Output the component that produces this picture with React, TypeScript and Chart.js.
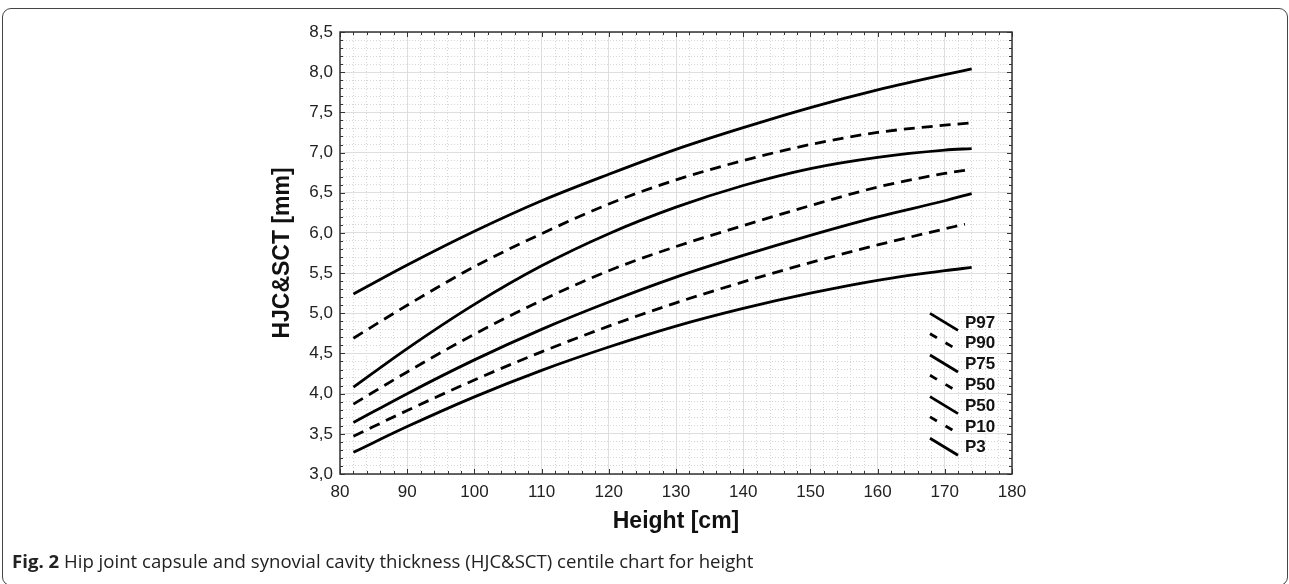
import React, { useEffect, useRef } from "react";
import { Chart, registerables } from "chart.js";
Chart.register(...registerables);

const heights = [82, 90, 100, 110, 120, 130, 140, 150, 160, 170, 174];
const heightsP10 = [82, 90, 100, 110, 120, 130, 140, 150, 160, 170, 173];
const p97 = [5.24, 5.6, 6.02, 6.4, 6.73, 7.04, 7.31, 7.56, 7.78, 7.97, 8.04];
const p90 = [4.69, 5.1, 5.58, 5.99, 6.36, 6.66, 6.9, 7.1, 7.25, 7.34, 7.37];
const p75 = [4.08, 4.56, 5.11, 5.59, 5.99, 6.32, 6.59, 6.8, 6.94, 7.03, 7.05];
const p50d = [3.87, 4.27, 4.74, 5.16, 5.53, 5.83, 6.09, 6.34, 6.57, 6.74, 6.79];
const p50s = [3.64, 4.0, 4.42, 4.8, 5.14, 5.45, 5.72, 5.97, 6.2, 6.4, 6.49];
const p10 = [3.47, 3.79, 4.17, 4.52, 4.84, 5.13, 5.39, 5.63, 5.85, 6.05, 6.11];
const p3 = [3.27, 3.59, 3.96, 4.29, 4.58, 4.84, 5.06, 5.25, 5.41, 5.53, 5.57];

const legendLabels = ["P97", "P90", "P75", "P50", "P50", "P10", "P3"];
const legendDashed = [false, true, false, true, false, true, false];

const xMin = 80, xMax = 180, xMajor = 10, xMinorStep = 2;
const yMin = 3, yMax = 8.5, yMajor = 0.5, yMinorStep = 0.1;

const FONT = "'Liberation Sans', Arial, sans-serif";

const toPts = (xs: number[], ys: number[]) => xs.map((x, i) => ({ x, y: ys[i] }));

const isMult = (v: number, step: number) => Math.abs(v / step - Math.round(v / step)) < 1e-6;

const framePlugin = {
  id: "frameAndLegend",
  afterDraw(chart: any) {
    const { ctx, chartArea } = chart;
    const { left, right, top, bottom } = chartArea;
    const xs = chart.scales.x;
    const ys = chart.scales.y;
    ctx.save();
    ctx.strokeStyle = "#333";
    ctx.lineWidth = 1;
    ctx.beginPath();
    for (let v = xMin; v <= xMax + 1e-9; v += xMinorStep) {
      const px = Math.round(xs.getPixelForValue(v)) + 0.5;
      const len = isMult(v, xMajor) ? 5 : 3;
      ctx.moveTo(px, bottom);
      ctx.lineTo(px, bottom - len);
      ctx.moveTo(px, top);
      ctx.lineTo(px, top + len);
    }
    for (let v = yMin; v <= yMax + 1e-9; v += yMinorStep) {
      const py = Math.round(ys.getPixelForValue(v)) + 0.5;
      const len = isMult(v, yMajor) ? 5 : 3;
      ctx.moveTo(left, py);
      ctx.lineTo(left + len, py);
      ctx.moveTo(right, py);
      ctx.lineTo(right - len, py);
    }
    ctx.stroke();
    ctx.strokeStyle = "#333";
    ctx.lineWidth = 1.5;
    ctx.strokeRect(left, top, right - left, bottom - top);

    const rowH = 20.8;
    const lastC = bottom - 27.3;
    ctx.font = `bold 17px ${FONT}`;
    ctx.fillStyle = "#111";
    ctx.textBaseline = "middle";
    ctx.textAlign = "left";
    legendLabels.forEach((lab, i) => {
      const c = lastC - (legendLabels.length - 1 - i) * rowH;
      const x0 = right - 82;
      ctx.strokeStyle = "#000";
      ctx.lineWidth = 2.8;
      ctx.beginPath();
      if (legendDashed[i]) {
        ctx.setLineDash([8, 10]);
        ctx.moveTo(x0, c - 9);
        ctx.lineTo(x0 + 23, c + 4.5);
      } else {
        ctx.setLineDash([]);
        ctx.moveTo(x0, c - 8.5);
        ctx.lineTo(x0 + 28, c + 8.5);
      }
      ctx.stroke();
      ctx.setLineDash([]);
      ctx.fillText(lab, right - 47, c + 1);
    });
    ctx.restore();
  },
};

export default function App() {
  const ref = useRef<HTMLCanvasElement | null>(null);
  useEffect(() => {
    document.body.style.margin = "0";
    const canvas = ref.current!;
    const mk = (label: string, xs: number[], ys: number[], dashed: boolean) => ({
      label,
      data: toPts(xs, ys),
      borderColor: "#000",
      borderWidth: 2.8,
      borderDash: dashed ? [11, 7] : [],
      pointRadius: 0,
      fill: false,
      cubicInterpolationMode: "monotone" as const,
      borderCapStyle: "butt" as const,
    });
    const tickFont = { family: FONT, size: 17 };
    const titleFont = { family: FONT, size: 23, weight: "bold" as const };
    const chart = new Chart(canvas, {
      type: "line",
      data: {
        datasets: [
          mk("P97", heights, p97, false),
          mk("P90", heights, p90, true),
          mk("P75", heights, p75, false),
          mk("P50 (dashed)", heights, p50d, true),
          mk("P50", heights, p50s, false),
          mk("P10", heightsP10, p10, true),
          mk("P3", heights, p3, false),
        ],
      },
      options: {
        animation: false,
        responsive: false,
        devicePixelRatio: 1,
        layout: { padding: { left: 260, right: 277, top: 32, bottom: 40 } },
        plugins: { legend: { display: false }, tooltip: { enabled: false } },
        scales: {
          x: {
            type: "linear",
            position: "bottom",
            min: xMin,
            max: xMax,
            ticks: { stepSize: xMajor, font: tickFont, color: "#222", padding: 8 },
            grid: { color: "#dedede", lineWidth: 1, drawTicks: false },
            border: { display: false },
            title: {
              display: true,
              text: "Height [cm]",
              font: titleFont,
              color: "#111",
              padding: { top: 0, bottom: 9 },
            },
            afterFit: (s: any) => { s.height = 70; },
          },
          xMinor: {
            type: "linear",
            position: "bottom",
            min: xMin,
            max: xMax,
            ticks: { stepSize: xMinorStep, display: false },
            grid: {
              color: (c: any) => (isMult(c.tick.value, xMajor) ? "rgba(0,0,0,0)" : "#d6d6d6"),
              lineWidth: 1,
              drawTicks: false,
            },
            border: { display: false, dash: [1, 2] },
            afterFit: (s: any) => { s.height = 0; },
          },
          y: {
            type: "linear",
            position: "left",
            min: yMin,
            max: yMax,
            ticks: {
              stepSize: yMajor,
              font: tickFont,
              color: "#222",
              padding: 7,
              callback: (v: any) => Number(v).toFixed(1).replace(".", ","),
            },
            grid: { color: "#dedede", lineWidth: 1, drawTicks: false },
            border: { display: false },
            title: {
              display: true,
              text: "HJC&SCT [mm]",
              font: titleFont,
              color: "#111",
              padding: { top: 9, bottom: 0 },
            },
            afterFit: (s: any) => { s.width = 80; },
          },
          yMinor: {
            type: "linear",
            position: "left",
            min: yMin,
            max: yMax,
            ticks: { stepSize: yMinorStep, display: false },
            grid: {
              color: (c: any) => (isMult(c.tick.value, yMajor) ? "rgba(0,0,0,0)" : "#d6d6d6"),
              lineWidth: 1,
              drawTicks: false,
            },
            border: { display: false, dash: [1, 2] },
            afterFit: (s: any) => { s.width = 0; },
          },
        },
      } as any,
      plugins: [framePlugin],
    });
    return () => chart.destroy();
  }, []);

  return (
    <div style={{ position: "relative", width: 1289, height: 584, overflow: "hidden", background: "#fff" }}>
      <div
        style={{
          position: "absolute",
          left: 2,
          top: 8,
          width: 1286,
          height: 578,
          boxSizing: "border-box",
          border: "1.5px solid #444",
          borderRadius: 9,
        }}
      />
      <canvas ref={ref} width={1289} height={584} style={{ position: "absolute", left: 0, top: 0 }} />
      <div
        style={{
          position: "absolute",
          left: 12,
          top: 549,
          fontFamily: "'Open Sans', sans-serif",
          fontSize: 18.6,
          lineHeight: "24px",
          color: "#222",
          whiteSpace: "nowrap",
        }}
      >
        <b>Fig. 2</b> Hip joint capsule and synovial cavity thickness (HJC&amp;SCT) centile chart for height
      </div>
    </div>
  );
}
